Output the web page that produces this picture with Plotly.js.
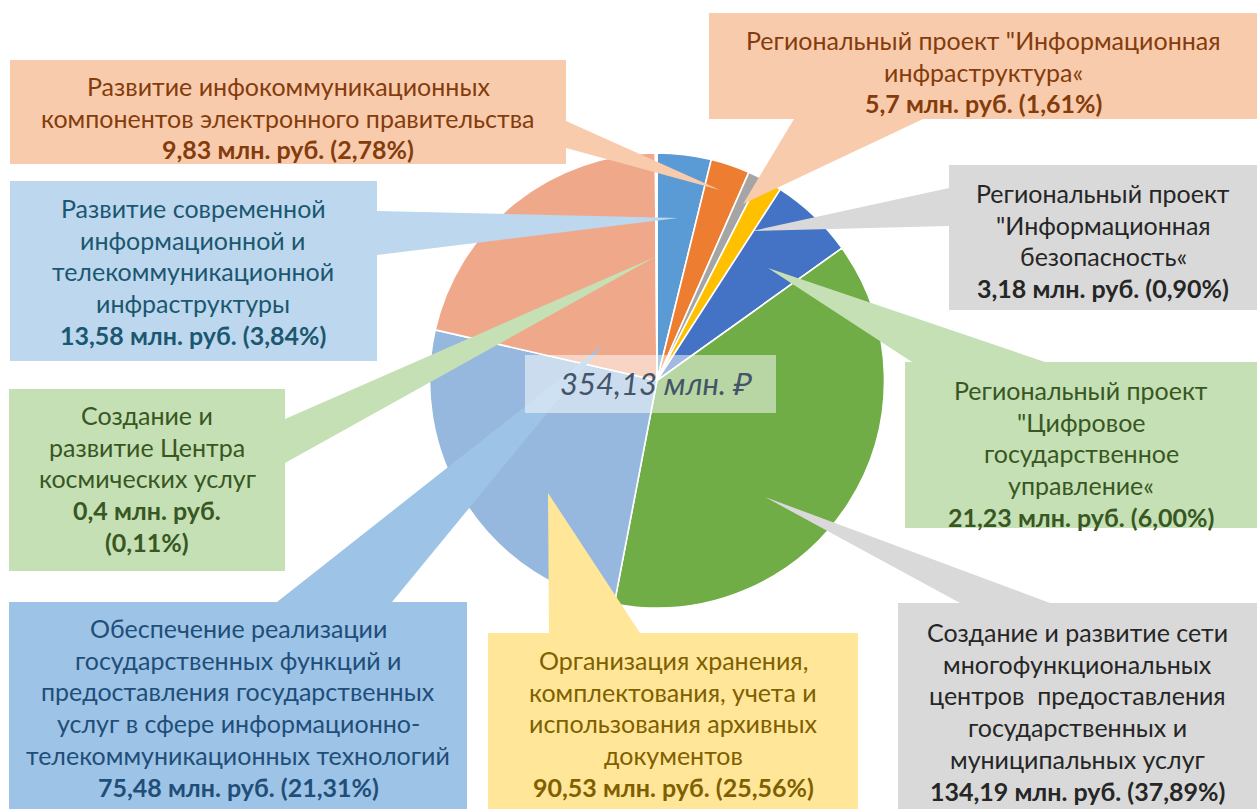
<!DOCTYPE html>
<html>
<head>
<meta charset="utf-8">
<script src="https://cdn.plot.ly/plotly-3.0.1.min.js"></script>
<style>html,body{margin:0;padding:0;background:#fff;}#chart{width:1257px;height:809px;}</style>
</head>
<body>
<div id="chart"></div>
<script>
// ---- DATA ----
const categories = [
  "Развитие современной информационной и телекоммуникационной инфраструктуры",
  "Развитие инфокоммуникационных компонентов электронного правительства",
  "Региональный проект \"Информационная безопасность«",
  "Региональный проект \"Информационная инфраструктура«",
  "Региональный проект \"Цифровое государственное управление«",
  "Создание и развитие сети многофункциональных центров предоставления государственных и муниципальных услуг",
  "Организация хранения, комплектования, учета и использования архивных документов",
  "Обеспечение реализации государственных функций и предоставления государственных услуг в сфере информационно-телекоммуникационных технологий",
  "Создание и развитие Центра космических услуг"
];
const values   = [13.58, 9.83, 3.18, 5.7, 21.23, 134.19, 90.53, 75.48, 0.4];   // млн. руб.
const percents = [3.84, 2.78, 0.90, 1.61, 6.00, 37.89, 25.56, 21.31, 0.11];
const total = 354.13;
// wrapped label text lines (as in the picture)
const labelLines = [
  ["Развитие современной", "информационной и", "телекоммуникационной", "инфраструктуры"],
  ["Развитие инфокоммуникационных", "компонентов электронного правительства"],
  ["Региональный проект", "\"Информационная", "безопасность«"],
  ["Региональный проект \"Информационная", "инфраструктура«"],
  ["Региональный проект", "\"Цифровое", "государственное", "управление«"],
  ["Создание и развитие сети", "многофункциональных", "центров  предоставления", "государственных и", "муниципальных услуг"],
  ["Организация хранения,", "комплектования, учета и", "использования архивных", "документов"],
  ["Обеспечение реализации", "государственных функций и", "предоставления государственных", "услуг в сфере информационно-", "телекоммуникационных технологий"],
  ["Создание и", "развитие Центра", "космических услуг"]
];

// ---- STYLE / LAYOUT ----
const sliceColors = ["#5B9BD5","#ED7D31","#A5A5A5","#FFC000","#4472C4","#70AD47","#97B8DE","#F0A88A","#C3D3E8"];
const W = 1257, H = 809;
const pieCx = 657, pieCy = 380.5, pieR = 227.5;
const FONT = "Lato, 'Noto Sans', sans-serif";
const FS = 25, LH = 31.7;

// callout boxes, in pixels: box [x0,y0,x1,y1], text centre x, first line y, wedge base points & tip
const callouts = [
  {box:[10,181,377,361], cx:193, y0:208, fill:"#BDD7EE", color:"#1B5770", base:[[377,211],[377,255]], tip:[678,218]},
  {box:[10,60,566,164],  cx:288, y0:86,  fill:"#F8CBAD", color:"#843C0C", base:[[566,121],[566,148]], tip:[720,190]},
  {box:[949,165,1257,310], cx:1103, y0:193, fill:"#D9D9D9", color:"#262626", base:[[949,188],[949,226]], tip:[752,231]},
  {box:[709,13,1257,119], cx:983, y0:40,  fill:"#F8CBAD", color:"#843C0C", base:[[794,119],[923,119]], tip:[743,204]},
  {box:[905,362,1257,528], cx:1081, y0:390, fill:"#C5E0B4", color:"#385723", base:[[912,362],[1045,362]], tip:[768,268]},
  {box:[898,603,1257,809], cx:1077, y0:632, fill:"#D9D9D9", color:"#262626", base:[[960,603],[1050,603]], tip:[765,497]},
  {box:[488,633,858,809], cx:673, y0:660, fill:"#FFE699", color:"#7F6000", base:[[549,633],[640,633]], tip:[548,493]},
  {box:[9,602,467,809], cx:238, y0:628, fill:"#9DC3E6", color:"#1F4E79", base:[[277,602],[392,602]], tip:[603,345]},
  {box:[9,389,285,571], cx:147, y0:415, fill:"#C5E0B4", color:"#385723", base:[[285,419],[285,463]], tip:[655,257], split:true}
];
const centerBox = [525,355,776,413];

const fx = x => x / W;
const fy = y => 1 - y / H;
const fmt = v => String(v).replace('.', ',');

const shapes = [];
const annotations = [];
callouts.forEach((c, i) => {
  const [x0,y0,x1,y1] = c.box;
  shapes.push({type:'rect', xref:'paper', yref:'paper', x0:fx(x0), x1:fx(x1), y0:fy(y1), y1:fy(y0),
               fillcolor:c.fill, line:{width:0}, layer:'above'});
  shapes.push({type:'path', xref:'paper', yref:'paper',
    path: `M ${fx(c.base[0][0])},${fy(c.base[0][1])} L ${fx(c.tip[0])},${fy(c.tip[1])} L ${fx(c.base[1][0])},${fy(c.base[1][1])} Z`,
    fillcolor:c.fill, line:{width:0}, layer:'above'});
  const lines = labelLines[i].slice();
  const valStr = fmt(values[i]) + " млн. руб.";
  const pctStr = "(" + percents[i].toFixed(2).replace('.', ',') + "%)";
  const bold = c.split ? [valStr, pctStr] : [valStr + " " + pctStr];
  const all = lines.map(t => ({t, b:false})).concat(bold.map(t => ({t, b:true})));
  all.forEach((ln, k) => {
    annotations.push({xref:'paper', yref:'paper', x:fx(c.cx), y:fy(c.y0 + k*LH),
      xanchor:'center', yanchor:'middle', showarrow:false,
      text: ln.b ? "<b>" + ln.t + "</b>" : ln.t.replace(/  /g, "&nbsp; "),
      font:{family:FONT, size:FS, color:c.color}});
  });
});
shapes.push({type:'rect', xref:'paper', yref:'paper', x0:fx(centerBox[0]), x1:fx(centerBox[2]),
  y0:fy(centerBox[3]), y1:fy(centerBox[1]), fillcolor:'rgba(255,255,255,0.5)', line:{width:0}, layer:'above'});
annotations.push({xref:'paper', yref:'paper', x:fx(656), y:fy(383), xanchor:'center', yanchor:'middle',
  showarrow:false, text: fmt(total) + " млн. ₽",
  font:{family:FONT, size:31, color:'#44546A', style:'italic'}});

const trace = {
  type:'pie', values:values, labels:categories, sort:false, direction:'clockwise', rotation:0,
  textinfo:'none', hoverinfo:'label+value+percent', showlegend:false,
  marker:{colors:sliceColors, line:{color:'#ffffff', width:1.6}},
  domain:{x:[fx(pieCx - pieR), fx(pieCx + pieR)], y:[fy(pieCy + pieR), fy(pieCy - pieR)]}
};

const layout = {
  width:W, height:H, margin:{l:0,r:0,t:0,b:0}, paper_bgcolor:'#ffffff', plot_bgcolor:'#ffffff',
  showlegend:false, shapes:shapes, annotations:annotations
};
Plotly.newPlot('chart', [trace], layout, {displayModeBar:false, staticPlot:true});
</script>
</body>
</html>
